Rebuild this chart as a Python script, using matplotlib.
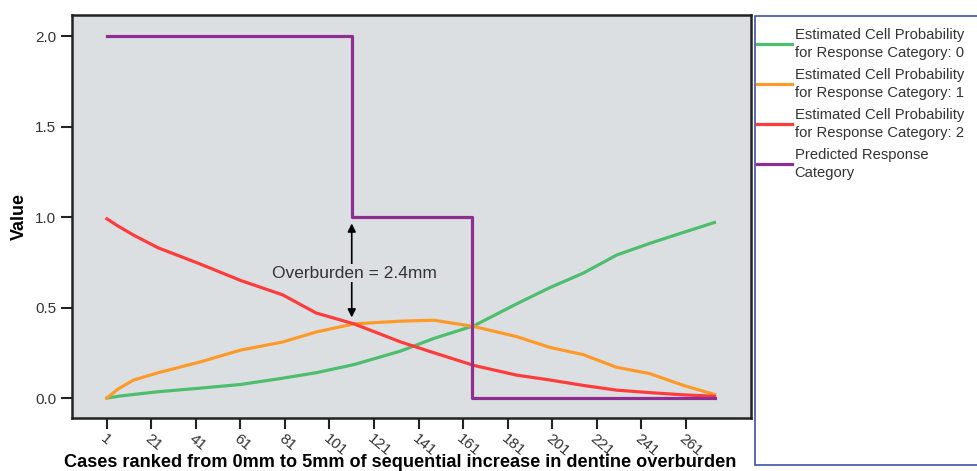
import numpy as np
import matplotlib
matplotlib.use("Agg")
import matplotlib.pyplot as plt
from matplotlib.patches import Rectangle

plt.rcParams['font.family'] = ['Liberation Sans', 'DejaVu Sans']

cases = [1, 6, 13, 24, 43, 61, 80, 95, 112, 133, 148, 166, 185, 200, 215, 230, 245, 260, 274]
prob_cat0 = [0.0, 0.01, 0.02, 0.035, 0.055, 0.075, 0.11, 0.14, 0.185, 0.26, 0.33, 0.40, 0.52,
             0.61, 0.69, 0.79, 0.855, 0.915, 0.97]
prob_cat1 = [0.0, 0.05, 0.10, 0.14, 0.20, 0.265, 0.31, 0.365, 0.41, 0.425, 0.43, 0.395, 0.34,
             0.28, 0.24, 0.17, 0.135, 0.07, 0.02]
prob_cat2 = [0.99, 0.95, 0.90, 0.83, 0.74, 0.65, 0.57, 0.47, 0.41, 0.31, 0.25, 0.18, 0.127,
             0.10, 0.07, 0.044, 0.03, 0.018, 0.01]

# predicted category (step function)
pred_x = [1, 111, 111, 165, 165, 274]
pred_y = [2, 2, 1, 1, 0, 0]

xticks = list(range(1, 262, 20))
yticks = [0.0, 0.5, 1.0, 1.5, 2.0]

labels = ["Estimated Cell Probability\nfor Response Category: 0",
          "Estimated Cell Probability\nfor Response Category: 1",
          "Estimated Cell Probability\nfor Response Category: 2",
          "Predicted Response\nCategory"]
colors = ["#4DBE6E", "#FF9A2A", "#FF3C3C", "#8E2E92"]

fig = plt.figure(figsize=(9.77, 4.71), dpi=100)
ax = fig.add_axes([72/977, 1-418/471, (751-72)/977, (418-15)/471])
ax.set_facecolor("#DCDFE2")

l0, = ax.plot(cases, prob_cat0, color=colors[0], lw=2.3)
l1, = ax.plot(cases, prob_cat1, color=colors[1], lw=2.3)
l2, = ax.plot(cases, prob_cat2, color=colors[2], lw=2.3)
l3, = ax.plot(pred_x, pred_y, color=colors[3], lw=2.3)

ax.set_xlim(-14.7, 290.4)
ax.set_ylim(-0.11, 2.116)
ax.set_xticks(xticks)
ax.set_yticks(yticks)
ax.set_yticklabels([f"{v:.1f}" for v in yticks])
ax.tick_params(axis='both', direction='out', length=8, width=1.5, colors='#222222',
               labelsize=11, labelcolor='#333333')
ax.tick_params(axis='x', pad=2)
for lab in ax.get_xticklabels():
    lab.set_rotation(-40)
    lab.set_ha('left')
    lab.set_va('top')
    lab.set_rotation_mode('anchor')
for sp in ax.spines.values():
    sp.set_linewidth(1.8)
    sp.set_color('#222222')

ax.set_ylabel("Value", fontsize=13, fontweight='bold', labelpad=5)
ax.set_xlabel("Cases ranked from 0mm to 5mm of sequential increase in dentine overburden",
              fontsize=13.1, fontweight='bold')
ax.xaxis.set_label_coords((400 - 72) / 679, (418 - 454) / 403)

# annotation: double arrow with label
ax.annotate("", xy=(111, 0.98), xytext=(111, 0.43),
            arrowprops=dict(arrowstyle='<|-|>', color='black', lw=1.2, mutation_scale=12))
ax.text(112, 0.69, "Overburden = 2.4mm", fontsize=12.5, ha='center', va='center',
        color='#333333', bbox=dict(facecolor="#DCDFE2", edgecolor='none', pad=1))

# legend panel
fig.patches.append(Rectangle((755/977, 1-465/471), 0.3, (465-16)/471,
                             transform=fig.transFigure, facecolor='white',
                             edgecolor='#3F51A3', lw=1.2))
leg = fig.legend([l0, l1, l2, l3], labels, loc='upper left',
                 bbox_to_anchor=(757/977, 1-28/471), frameon=False, fontsize=10.6,
                 handlelength=2.4, handletextpad=0.15, borderpad=0, borderaxespad=0,
                 labelspacing=0.55)
for t in leg.get_texts():
    t.set_color('#333333')
    t.set_linespacing(1.35)

fig.savefig("out.png", dpi=100)
